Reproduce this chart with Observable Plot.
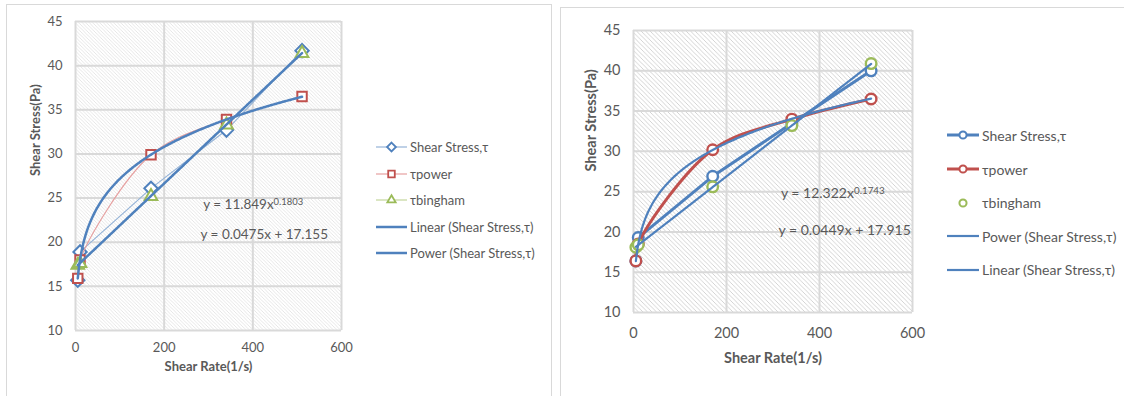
<!DOCTYPE html>
<html>
<head>
<meta charset="utf-8">
<script src="https://cdn.jsdelivr.net/npm/d3@7"></script>
<script src="https://cdn.jsdelivr.net/npm/@observablehq/plot@0.6"></script>
<style>
  html, body { margin: 0; padding: 0; background: #fff; }
  #root { position: relative; width: 1124px; height: 396px; overflow: hidden; font-family: Lato, "Open Sans", sans-serif; }
  .panel { position: absolute; border: 1.5px solid #d9d9d9; box-sizing: border-box; background: #fff; }
  .chart { position: absolute; top: 0; }
</style>
</head>
<body>
<div id="root"></div>
<script>
// ---------- data ----------
const shearRate = [5.11, 10.22, 170.3, 340.6, 511];

// left chart
const stressLeft = [15.7, 18.9, 26.1, 32.7, 41.7];
const powerLeft = [15.9, 18.0, 29.9, 33.9, 36.5];
const binghamLeft = [17.4, 17.6, 25.2, 33.3, 41.4];
const powerFitLeft = [11.849, 0.1803];   // a, b  in y = a x^b
const linearFitLeft = [0.0475, 17.155];  // m, c  in y = m x + c
const equationsLeft = ["y = 11.849x^0.1803", "y = 0.0475x + 17.155"];
const legendLeft = ["Shear Stress,τ", "τpower", "τbingham", "Linear (Shear Stress,τ)", "Power (Shear Stress,τ)"];

// right chart
const stressRight = [16.4, 19.3, 26.9, 33.5, 40.0];
const powerRight = [16.4, 18.5, 30.2, 34.0, 36.5];
const binghamRight = [18.1, 18.4, 25.6, 33.2, 40.9];
const powerFitRight = [12.322, 0.1743];
const linearFitRight = [0.0449, 17.915];
const equationsRight = ["y = 12.322x^0.1743", "y = 0.0449x + 17.915"];
const legendRight = ["Shear Stress,τ", "τpower", "τbingham", "Power (Shear Stress,τ)", "Linear (Shear Stress,τ)"];

const xTicks = [0, 200, 400, 600];
const yTicks = [10, 15, 20, 25, 30, 35, 40, 45];
const xTitle = "Shear Rate(1/s)";
const yTitle = "Shear Stress(Pa)";

const BLUE = "#4f81bd", RED = "#c0504d", GREEN = "#9bbb59", GRAY = "#595959";

const root = document.getElementById("root");

function addDiv(cls, style) {
  const d = document.createElement("div");
  d.className = cls;
  Object.assign(d.style, style);
  root.appendChild(d);
  return d;
}

// panel borders
addDiv("panel", {left: "6px", top: "4px", width: "546px", height: "420px"});
addDiv("panel", {left: "560px", top: "7px", width: "600px", height: "420px"});

function rows(ys) { return shearRate.map((x, i) => ({x, y: ys[i]})); }
function curve(fit, kind) {
  const xs = d3.range(0, 201).map(i => shearRate[0] + (shearRate[shearRate.length - 1] - shearRate[0]) * i / 200);
  return xs.map(x => ({x, y: kind === "power" ? fit[0] * Math.pow(x, fit[1]) : fit[0] * x + fit[1]}));
}

function makeChart(o) {
  const eqRows = o.equations.map((t, i) => ({t, x: o.eqPos[i][0], y: o.eqPos[i][1]}));
  const chart = Plot.plot({
    width: o.width, height: 396,
    marginLeft: o.ml, marginRight: o.mr, marginTop: o.mt, marginBottom: o.mb,
    style: {fontFamily: "Lato, 'Open Sans', sans-serif", color: GRAY, background: "transparent", overflow: "visible"},
    x: {domain: [0, 600]},
    y: {domain: [10, 45]},
    marks: [
      Plot.frame({fill: `url(#${o.id})`, stroke: "none"}),
      Plot.gridX(xTicks, {stroke: "#d9d9d9", strokeOpacity: 1, strokeWidth: 2}),
      Plot.gridY(yTicks, {stroke: "#d9d9d9", strokeOpacity: 1, strokeWidth: 2}),
      Plot.axisX({ticks: xTicks, tickSize: 0, tickPadding: o.xpad, fontSize: o.fs, label: null}),
      Plot.axisY({ticks: yTicks, tickSize: 0, tickPadding: o.ypad, fontSize: o.fs, label: null}),
      ...o.seriesMarks,
      Plot.line(curve(o.linFit, "linear"), {x: "x", y: "y", stroke: BLUE, strokeWidth: o.tw}),
      Plot.line(curve(o.powFit, "power"), {x: "x", y: "y", stroke: BLUE, strokeWidth: o.tw}),
      Plot.text(eqRows, {x: "x", y: "y", text: "t", textAnchor: "start", fill: GRAY, fontSize: o.eqfs}),
      Plot.text([xTitle], {frameAnchor: "bottom", dy: o.xTitleDy, fontWeight: "bold", fill: GRAY, fontSize: o.fs}),
      Plot.text([yTitle], {frameAnchor: "left", dx: o.yTitleDx, rotate: -90, fontWeight: "bold", fill: GRAY, fontSize: o.fs})
    ]
  });
  // hatch pattern
  const svg = d3.select(chart);
  const defs = svg.insert("defs", ":first-child");
  const s = o.hatch;
  const p = defs.append("pattern").attr("id", o.id).attr("patternUnits", "userSpaceOnUse")
    .attr("width", s).attr("height", s);
  p.append("rect").attr("width", s).attr("height", s).attr("fill", "#fff");
  p.append("path").attr("d", `M0,0L${s},${s}M${-s},0L0,${s}M${s},${-s}L${2*s},0`)
    .attr("stroke", o.hatchColor).attr("stroke-width", o.hatchW);
  // superscripts
  svg.selectAll("text").each(function() {
    const t = this.textContent;
    if (t.includes("^") && this.children.length === 0) {
      const [base, exp] = t.split("^");
      const el = d3.select(this);
      el.text(null);
      el.append("tspan").text(base);
      el.append("tspan").attr("dy", "-0.45em").attr("font-size", "0.7em").text(exp);
    }
  });
  chart.classList.add("chart");
  chart.style.left = o.left + "px";
  root.appendChild(chart);
}

function markerDots(ys, symbol, color, r, sw) {
  return Plot.dot(rows(ys), {x: "x", y: "y", symbol, r, stroke: color, strokeWidth: sw, fill: "white"});
}

// ---- left chart ----
makeChart({
  id: "hatchL", left: 0, width: 556, ml: 75, mr: 215, mt: 21, mb: 66,
  fs: 13, eqfs: 13.5, xpad: 12, ypad: 13, xTitleDy: 40, yTitleDx: -40, tw: 2.5,
  hatch: 3.5, hatchColor: "#e0e0e0", hatchW: 0.8,
  powFit: powerFitLeft, linFit: linearFitLeft,
  equations: equationsLeft, eqPos: [[288, 24.2], [282, 20.85]],
  seriesMarks: [
    Plot.line(rows(stressLeft), {x: "x", y: "y", stroke: "#95b3d7", strokeWidth: 1.2}),
    markerDots(stressLeft, "diamond2", BLUE, 6, 2),
    Plot.line(rows(powerLeft), {x: "x", y: "y", stroke: "#e6a0a0", strokeWidth: 1.2, curve: "catmull-rom"}),
    markerDots(powerLeft, "square2", RED, 6, 2),
    Plot.line(rows(binghamLeft), {x: "x", y: "y", stroke: "#c3d69b", strokeWidth: 1.2}),
    markerDots(binghamLeft, "triangle2", GREEN, 6, 2)
  ]
});

// ---- right chart ----
makeChart({
  id: "hatchR", left: 556, width: 568, ml: 77, mr: 212, mt: 30, mb: 84,
  fs: 14.5, eqfs: 14, xpad: 15, ypad: 13, xTitleDy: 50, yTitleDx: -42, tw: 2.2,
  hatch: 4.5, hatchColor: "#cfcfcf", hatchW: 0.9,
  powFit: powerFitRight, linFit: linearFitRight,
  equations: equationsRight, eqPos: [[317, 24.75], [312, 20.15]],
  seriesMarks: [
    Plot.line(rows(stressRight), {x: "x", y: "y", stroke: BLUE, strokeWidth: 3}),
    Plot.dot(rows(stressRight), {x: "x", y: "y", r: 5.3, stroke: BLUE, strokeWidth: 2.4, fill: "white"}),
    Plot.line(rows(powerRight), {x: "x", y: "y", stroke: RED, strokeWidth: 3, curve: "catmull-rom"}),
    Plot.dot(rows(powerRight), {x: "x", y: "y", r: 5.3, stroke: RED, strokeWidth: 2.4, fill: "white"}),
    Plot.dot(rows(binghamRight), {x: "x", y: "y", r: 5.3, stroke: GREEN, strokeWidth: 2.4, fill: "white"})
  ]
});

// ---- legends ----
function legend(items, o) {
  items.forEach((label, i) => {
    const st = o.styles[i];
    const y = o.ys[i];
    const item = addDiv("item", {position: "absolute", left: o.x0 + "px", top: (y - 10) + "px", height: "20px",
      fontSize: o.fs + "px", color: GRAY, whiteSpace: "nowrap", display: "flex", alignItems: "center",
      fontFamily: "Lato, 'Open Sans', sans-serif"});
    const w = o.lineW;
    const sw = d3.create("svg").attr("width", w + 3).attr("height", 20).style("flex", "none");
    if (st.line) sw.append("line").attr("x1", 0).attr("x2", w).attr("y1", 10).attr("y2", 10)
      .attr("stroke", st.line).attr("stroke-width", st.lw);
    if (st.sym) {
      const sym = d3.symbol(st.sym, st.size)();
      sw.append("path").attr("d", sym).attr("transform", `translate(${w / 2},10)`)
        .attr("fill", "white").attr("stroke", st.color).attr("stroke-width", st.msw);
    }
    item.appendChild(sw.node());
    const span = document.createElement("span");
    span.textContent = label;
    item.appendChild(span);
  });
}

legend(legendLeft, {
  x0: 376, lineW: 31, fs: 13, ys: [147, 173.5, 200, 226.5, 252.5],
  styles: [
    {line: "#95b3d7", lw: 1.2, sym: d3.symbolDiamond2, size: 50, color: BLUE, msw: 1.8},
    {line: "#e6a0a0", lw: 1.2, sym: d3.symbolSquare2, size: 55, color: RED, msw: 1.8},
    {line: "#c3d69b", lw: 1.2, sym: d3.symbolTriangle2, size: 50, color: GREEN, msw: 1.8},
    {line: BLUE, lw: 2.5},
    {line: BLUE, lw: 2.5}
  ]
});

legend(legendRight, {
  x0: 947, lineW: 32, fs: 14, ys: [135, 169, 202.5, 236, 269.5],
  styles: [
    {line: BLUE, lw: 3, sym: d3.symbolCircle, size: 40, color: BLUE, msw: 2},
    {line: RED, lw: 3, sym: d3.symbolCircle, size: 40, color: RED, msw: 2},
    {sym: d3.symbolCircle, size: 40, color: GREEN, msw: 2},
    {line: BLUE, lw: 2.2},
    {line: BLUE, lw: 2.2}
  ]
});
</script>
</body>
</html>
